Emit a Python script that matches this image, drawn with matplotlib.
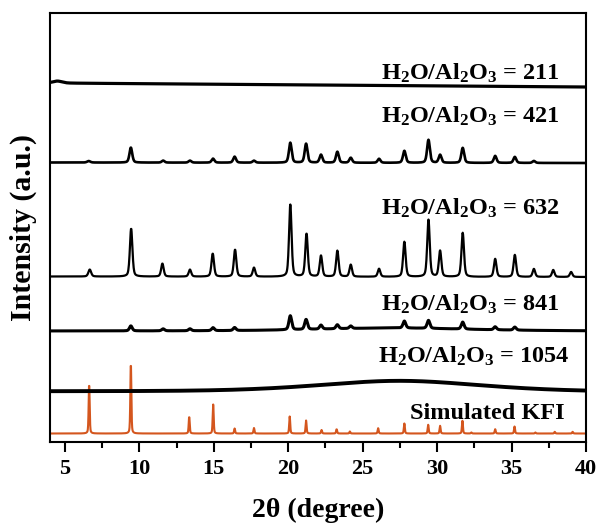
import numpy as np
import matplotlib.pyplot as plt

plt.rcParams['font.family'] = 'Liberation Serif'
plt.rcParams['font.weight'] = 'bold'
plt.rcParams['mathtext.fontset'] = 'custom'
plt.rcParams['mathtext.rm'] = 'Liberation Serif:bold'
plt.rcParams['mathtext.it'] = 'Liberation Serif:bold'
plt.rcParams['mathtext.bf'] = 'Liberation Serif:bold'

# peak lists: (2theta, intensity, fwhm)
sim_peaks = [(6.63, 50, 0.08), (9.43, 71, 0.08), (13.35, 17, 0.08), (14.96, 29, 0.08),
             (16.4, 5, 0.08), (17.7, 5.5, 0.08), (20.1, 17, 0.08), (21.2, 13, 0.08),
             (22.24, 3.5, 0.08), (23.25, 4.3, 0.08), (24.14, 2, 0.08), (26.04, 5.3, 0.08),
             (27.8, 10, 0.08), (29.4, 8.7, 0.08), (30.2, 7.7, 0.08), (31.7, 12.7, 0.08),
             (32.3, 1, 0.08), (33.9, 4.3, 0.08), (35.2, 7, 0.08), (36.6, 1, 0.08),
             (37.9, 1.7, 0.08), (39.1, 1.7, 0.08)]

r1054_peaks = [(27.5, 11, 13.0)]

r841_peaks = [(9.43, 5, 0.22), (11.6, 2, 0.22), (13.4, 2, 0.22), (14.95, 3, 0.22),
              (16.4, 3, 0.22), (20.14, 14, 0.22), (21.2, 10, 0.22), (22.2, 4, 0.22),
              (23.3, 4, 0.22), (24.2, 2.5, 0.22), (27.8, 7, 0.22), (29.42, 8, 0.22),
              (31.72, 7, 0.22), (33.9, 3, 0.22), (35.22, 3, 0.22), (27.0, 3, 12.0)]

r632_peaks = [(6.67, 7, 0.22), (9.45, 48, 0.2), (11.55, 13, 0.2), (13.4, 7, 0.2),
              (14.93, 23, 0.2), (16.43, 27, 0.2), (17.7, 9, 0.2), (20.14, 72, 0.2),
              (21.23, 43, 0.2), (22.2, 21, 0.2), (23.3, 26, 0.2), (24.2, 12, 0.2),
              (26.1, 8, 0.2), (27.8, 35, 0.2), (29.42, 57, 0.2), (30.2, 26, 0.2),
              (31.72, 44, 0.2), (33.9, 18, 0.2), (35.22, 22, 0.2), (36.5, 8, 0.2),
              (37.8, 7, 0.2), (39.0, 5, 0.2)]

r421_peaks = [(6.6, 1.5, 0.25), (9.43, 15, 0.22), (11.6, 2, 0.22), (13.4, 2, 0.22),
              (14.95, 4, 0.22), (16.4, 6, 0.22), (17.7, 2, 0.22), (20.14, 20, 0.22),
              (21.2, 19, 0.22), (22.2, 8, 0.22), (23.3, 11, 0.22), (24.2, 5, 0.22),
              (26.1, 4, 0.22), (27.8, 12, 0.22), (29.42, 23, 0.22), (30.2, 8, 0.22),
              (31.72, 15, 0.22), (33.9, 7, 0.22), (35.22, 6, 0.22), (36.5, 2, 0.22)]

r211_peaks = [(4.5, 2, 0.7)]

# baseline level at 4 and 40 degrees
sim_base = (8.5, 8.5)
r1054_base = (50.5, 50.0)
r841_base = (111, 111)
r632_base = (165.5, 165.0)
r421_base = (279.5, 279.0)
r211_base = (359, 355)

labels = ['Simulated KFI', 'H$_2$O/Al$_2$O$_3$ = 1054', 'H$_2$O/Al$_2$O$_3$ = 841',
          'H$_2$O/Al$_2$O$_3$ = 632', 'H$_2$O/Al$_2$O$_3$ = 421', 'H$_2$O/Al$_2$O$_3$ = 211']

x = np.arange(4, 40.001, 0.02)


def pattern(peaks, base):
    y = np.linspace(base[0], base[1], x.size)
    for c, h, w in peaks:
        g = np.exp(-4 * np.log(2) * ((x - c) / w) ** 2)
        l = 1 / (1 + 4 * ((x - c) / w) ** 2)
        y = y + h * (0.6 * g + 0.4 * l)
    return y


fig = plt.figure(figsize=(5.99, 5.26), dpi=100)
ax = fig.add_axes([50 / 599, 1 - 442 / 526, 536 / 599, 429 / 526])

red = '#D4561E'
ax.plot(x, pattern(sim_peaks, sim_base), color=red, lw=1.5)
ax.plot(x, pattern(r1054_peaks, r1054_base), color='black', lw=2.8)
ax.plot(x, pattern(r841_peaks, r841_base), color='black', lw=2.2)
ax.plot(x, pattern(r632_peaks, r632_base), color='black', lw=1.6)
ax.plot(x, pattern(r421_peaks, r421_base), color='black', lw=1.9)
ax.plot(x, pattern(r211_peaks, r211_base), color='black', lw=2.3)

# label anchors (left x in degrees, baseline y)
label_pos = [(28.2, 23), (26.0, 79), (26.2, 131), (26.2, 227), (26.2, 319), (26.2, 362)]
for (lx, ly), t in zip(label_pos, labels):
    ax.text(lx, ly, t, fontsize=17.5, fontweight='bold', ha='left', va='baseline')

ax.set_xlim(4, 40)
ax.set_ylim(0, 429)
ax.set_yticks([])
ax.set_xticks([5, 10, 15, 20, 25, 30, 35, 40])
ax.set_xticks(np.arange(7.5, 40, 5), minor=True)
ax.tick_params(axis='x', which='major', direction='out', length=7, width=1.5,
               labelsize=16, pad=5)
ax.tick_params(axis='x', which='minor', direction='out', length=4, width=1.5)
for s in ax.spines.values():
    s.set_linewidth(1.5)
for lab in ax.get_xticklabels():
    lab.set_fontweight('bold')

ax.set_xlabel('2θ (degree)', fontsize=20, fontweight='bold', labelpad=14)
ax.set_ylabel('Intensity (a.u.)', fontsize=21.5, fontweight='bold', labelpad=9)

fig.savefig('out.png', dpi=100)
